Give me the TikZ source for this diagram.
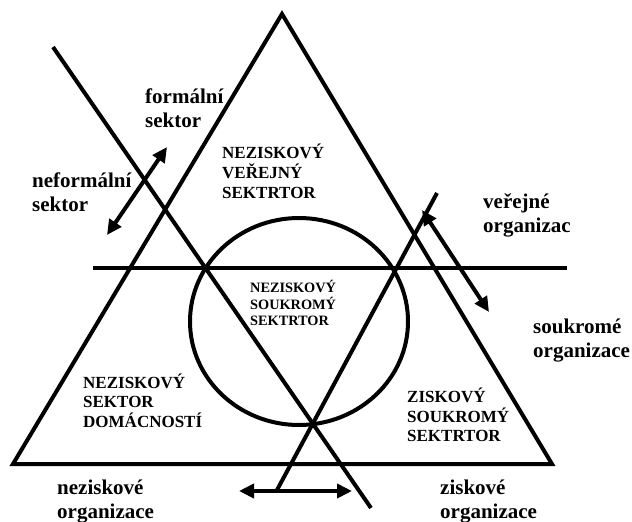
\documentclass[tikz,border=0pt]{standalone}
\usepackage{fontspec}
\setmainfont{Liberation Serif}
\usetikzlibrary{arrows.meta}
\newcommand\txtlines[1]{\begin{tabular}[t]{@{}l@{}}#1\end{tabular}}
\begin{document}
\begin{tikzpicture}[x=1pt,y=-1pt,
  heavy/.style={line width=4pt, line join=miter, line cap=butt},
  dbl/.style={heavy, {Triangle[length=15pt,width=14pt]}-{Triangle[length=15pt,width=14pt]}},
  big/.style={anchor=base west, inner sep=0pt, font=\fontsize{21}{24}\selectfont\bfseries},
  caps/.style={anchor=base west, inner sep=0pt, font=\fontsize{17}{19.5}\selectfont\bfseries},
  small/.style={anchor=base west, inner sep=0pt, font=\fontsize{14.3}{16}\selectfont\bfseries}]
\useasboundingbox (0,0) rectangle (632,522);

% triangle corners
\coordinate (apex) at (282,14);
\coordinate (bl) at (13,464);
\coordinate (br) at (552,464);
\draw[heavy] (apex) -- (bl) -- (br) -- cycle;

% horizontal line
\coordinate (h1) at (93,268);
\coordinate (h2) at (567,268);
\draw[heavy] (h1) -- (h2);

% descending diagonal
\coordinate (d1a) at (53,47);
\coordinate (d1b) at (371,508);
\draw[heavy] (d1a) -- (d1b);

% ascending diagonal
\coordinate (d2a) at (277,490);
\coordinate (d2b) at (437,193);
\draw[heavy] (d2a) -- (d2b);

% circle
\coordinate (cc) at (299,321.5);
\draw[heavy] (cc) ellipse [x radius=109pt, y radius=103.5pt];

% double arrows
\coordinate (a1a) at (107,235);
\coordinate (a1b) at (167,147);
\draw[dbl] (a1a) -- (a1b);
\coordinate (a2a) at (422,210);
\coordinate (a2b) at (489,312);
\draw[dbl] (a2a) -- (a2b);
\coordinate (a3a) at (239,491);
\coordinate (a3b) at (352,491);
\draw[dbl] (a3a) -- (a3b);

% labels
\node[big] (formal) at (145,103) {\txtlines{formální\\sektor}};
\node[big] (neformal) at (32,187) {\txtlines{neformální\\sektor}};
\node[big] (verejne) at (483,208) {\txtlines{veřejné\\organizac}};
\node[big] (soukrome) at (533,333) {\txtlines{soukromé\\organizace}};
\node[big] (neziskove) at (57,494) {\txtlines{neziskové\\organizace}};
\node[big] (ziskove) at (440,494) {\txtlines{ziskové\\organizace}};

\node[caps] (nvs) at (222,158) {\txtlines{NEZISKOVÝ\\VEŘEJNÝ\\SEKTRTOR}};
\node[caps] (nsd) at (83,388) {\txtlines{NEZISKOVÝ\\SEKTOR\\DOMÁCNOSTÍ}};
\node[caps] (zss) at (407,402) {\txtlines{ZISKOVÝ\\SOUKROMÝ\\SEKTRTOR}};
\node[small] (nss) at (250,292) {\txtlines{NEZISKOVÝ\\SOUKROMÝ\\SEKTRTOR}};
\end{tikzpicture}
\end{document}
